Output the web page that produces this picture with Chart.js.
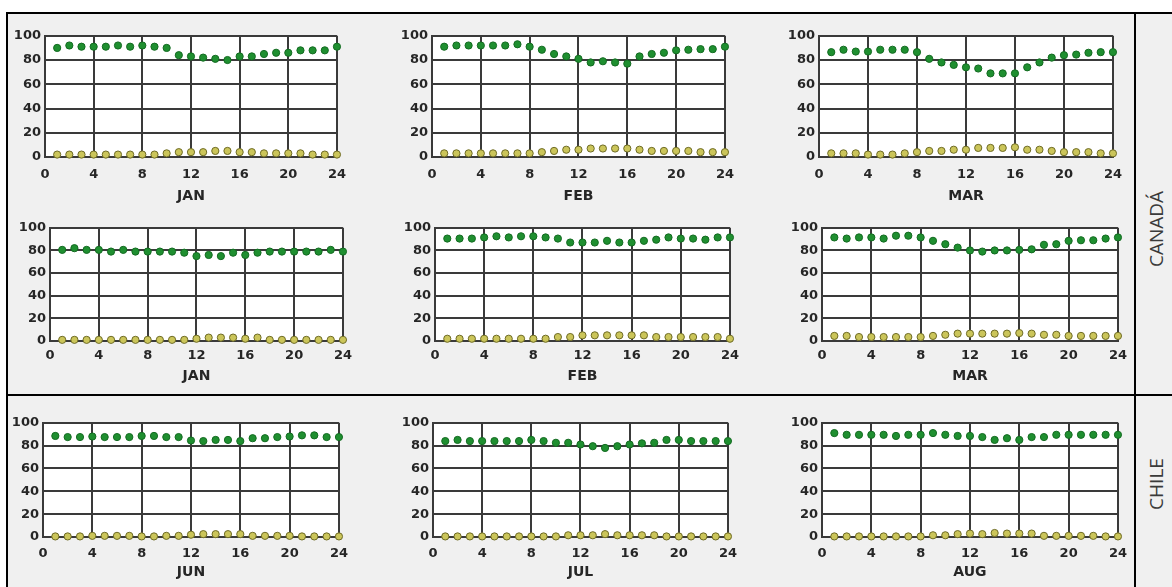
<!DOCTYPE html>
<html>
<head>
<meta charset="utf-8">
<script src="https://cdn.jsdelivr.net/npm/chart.js@4"></script>
<style>
body { margin:0; background:#fff; width:1172px; height:587px; overflow:hidden; position:relative; }
#marco { position:absolute; left:6px; top:12px; width:1166px; height:575px; background:#f0f0f0;
         border-top:2px solid #000; border-left:2px solid #000; box-sizing:border-box; }
.linea { position:absolute; background:#000; }
canvas { position:absolute; }
.pais { position:absolute; font-family:"Open Sans", sans-serif; font-size:19px; color:#3a3a3a;
        transform:translate(-50%, -50%) rotate(-90deg); white-space:nowrap; }
</style>
</head>
<body>
<div id="marco"></div>
<div class="linea" style="left:1134px; top:12px; width:2px; height:575px;"></div>
<div class="linea" style="left:6px; top:394px; width:1166px; height:2px;"></div>
<div class="pais" style="left:1156px; top:229px;">CANADÁ</div>
<div class="pais" style="left:1156px; top:484px;">CHILE</div>

<script>
// Horas del dia
var horas = [1, 2, 3, 4, 5, 6, 7, 8, 9, 10, 11, 12, 13, 14, 15, 16, 17, 18, 19, 20, 21, 22, 23, 24];

// Canada, fila 1
var canada1JanVerde = [90, 92, 91, 91, 91, 92, 91, 92, 91, 90, 84, 83, 82, 81, 80, 83, 83, 85, 86, 86, 88, 88, 88, 91];
var canada1JanAmarillo = [2, 2, 2, 2, 2, 2, 2, 2, 2, 3, 4, 4, 4, 5, 5, 4, 4, 3, 3, 3, 3, 2, 2, 2];
var canada1FebVerde = [91, 92, 92, 92, 92, 92, 93, 91, 88.5, 85, 83, 81, 78, 79, 78, 77, 83, 85, 86, 88, 88.5, 89, 89, 91];
var canada1FebAmarillo = [3, 3, 3, 3, 3, 3, 3, 3, 4, 5, 6, 6, 7, 7, 7, 7, 6, 5, 5, 5, 5, 4, 4, 4];
var canada1MarVerde = [86.5, 88.5, 87, 87, 88.5, 88.5, 88.5, 86.5, 81, 78, 76, 74, 73, 69, 69, 69, 74, 78, 82, 84, 84.5, 86, 86.5, 86.5];
var canada1MarAmarillo = [3, 3, 3, 2, 2, 2, 3, 4, 5, 5, 6, 6, 7.5, 7.5, 7.5, 8, 6, 6, 5, 4, 4, 4, 3, 3];

// Canada, fila 2
var canada2JanVerde = [80.5, 82, 80.5, 80.5, 79, 80.5, 79, 79, 79, 79, 78, 75, 76, 75, 78, 76, 78, 79, 79, 79, 79, 79, 80.5, 79];
var canada2JanAmarillo = [1, 1, 1, 1, 1, 1, 1, 1, 1, 1, 1, 2, 3, 3, 3, 2, 3, 1, 1, 1, 1, 1, 1, 1];
var canada2FebVerde = [90.5, 90.5, 90.5, 91.5, 92.5, 91.5, 92.5, 92.5, 91.5, 90.5, 87, 87, 87, 88.5, 87, 87, 88.5, 89.5, 91.5, 90.5, 90.5, 89.5, 91.5, 91.5];
var canada2FebAmarillo = [2, 2, 2, 2, 2, 2, 2, 2, 2, 3.5, 3.5, 5, 5, 5, 5, 5, 5, 3.5, 3.5, 3.5, 3.5, 3.5, 3.5, 2];
var canada2MarVerde = [91.5, 90.5, 91.5, 91.5, 90.5, 93, 93, 91.5, 88.5, 85.5, 82.5, 80, 79, 80, 80, 80.5, 81, 85, 85.5, 88.5, 89, 89, 90.5, 91.5];
var canada2MarAmarillo = [4.5, 4.5, 3.5, 3.5, 3.5, 3.5, 3.5, 3.5, 4.5, 5.5, 6.5, 6.5, 6.5, 6.5, 6.5, 7, 6.5, 5.5, 5.5, 4.5, 4.5, 4.5, 4.5, 4.5];

// Chile
var chileJunVerde = [88.5, 87.5, 87.5, 88, 87.5, 87.5, 87.5, 88.5, 88.5, 87.5, 87.5, 84.5, 84, 85, 85, 84, 86.5, 86.5, 87.5, 88, 89, 89, 87.5, 87.5];
var chileJunAmarillo = [0.5, 0.5, 0.5, 1, 1, 1, 1, 0.5, 0.5, 1, 1, 2, 2.5, 2.5, 2.5, 2.5, 1, 1, 1, 1, 0.5, 0.5, 0.5, 0.5];
var chileJulVerde = [84, 85, 84, 84, 84, 84, 84, 85, 84, 82.5, 82.5, 81, 79.5, 78, 79.5, 81, 82, 82.5, 85, 85, 84, 84, 84, 84];
var chileJulAmarillo = [0.5, 0.5, 0.5, 0.5, 0.5, 0.5, 0.5, 0.5, 0.5, 0.5, 1.5, 1.5, 1.5, 2.5, 1.5, 1.5, 1.5, 1.5, 0.5, 0.5, 0.5, 0.5, 0.5, 0.5];
var chileAugVerde = [91, 89.5, 89.5, 89.5, 89.5, 88.5, 89.5, 89.5, 91, 89.5, 88.5, 88.5, 87.5, 85, 86.5, 85, 87.5, 87.5, 89.5, 89.5, 89.5, 89.5, 89.5, 89.5];
var chileAugAmarillo = [0.5, 0.5, 0.5, 0.5, 0.5, 0.5, 0.5, 0.5, 1.5, 1.5, 2.5, 3, 2.5, 3.5, 3, 3, 3, 1, 1, 1, 1, 1, 0.5, 0.5];

var ejeX = { min: 0, max: 24, paso: 4 };
var ejeY = { min: 0, max: 100, paso: 20 };

var paneles = [
    { mes: 'JAN', verde: canada1JanVerde, amarillo: canada1JanAmarillo },
    { mes: 'FEB', verde: canada1FebVerde, amarillo: canada1FebAmarillo },
    { mes: 'MAR', verde: canada1MarVerde, amarillo: canada1MarAmarillo },
    { mes: 'JAN', verde: canada2JanVerde, amarillo: canada2JanAmarillo },
    { mes: 'FEB', verde: canada2FebVerde, amarillo: canada2FebAmarillo },
    { mes: 'MAR', verde: canada2MarVerde, amarillo: canada2MarAmarillo },
    { mes: 'JUN', verde: chileJunVerde, amarillo: chileJunAmarillo },
    { mes: 'JUL', verde: chileJulVerde, amarillo: chileJulAmarillo },
    { mes: 'AUG', verde: chileAugVerde, amarillo: chileAugAmarillo }
];

// Area de cada grafico: izquierda, arriba, derecha, abajo, alto del eje x, padding de ticks
var cajas = [
    [45, 32, 342, 157, 53, 10], [432, 32, 730, 157, 53, 10], [819, 32, 1118, 157, 53, 10],
    [50, 224, 345, 341, 49, 7], [435, 224, 732, 341, 49, 7], [822, 224, 1120, 341, 49, 7],
    [43, 419, 343, 537, 49, 9], [433, 419, 732, 537, 49, 9], [822, 419, 1122, 537, 49, 9]
];

// Fondo blanco del area de trazado
var fondoBlanco = {
    id: 'fondoBlanco',
    beforeDraw: function (chart) {
        var a = chart.chartArea;
        chart.ctx.save();
        chart.ctx.fillStyle = '#ffffff';
        chart.ctx.fillRect(a.left, a.top, a.right - a.left, a.bottom - a.top);
        chart.ctx.restore();
    }
};

var fuenteTicks = { family: 'DejaVu Sans', size: 13, weight: 'bold' };
var fuenteMes = { family: 'DejaVu Sans', size: 14, weight: 'bold' };
var colorTexto = '#262626';
var colorRejilla = '#3a3a3a';

function puntos(valores) {
    return horas.map(function (h, i) { return { x: h, y: valores[i] }; });
}

function crearPanel(p, caja) {
    var L = caja[0], T = caja[1], R = caja[2], B = caja[3], altoX = caja[4], padX = caja[5];
    var anchoY = 44, arriba = 8, derecha = 14;
    var w = R - L + anchoY + derecha;
    var h = B - T + arriba + altoX;

    var canvas = document.createElement('canvas');
    canvas.width = w;
    canvas.height = h;
    canvas.style.left = (L - anchoY) + 'px';
    canvas.style.top = (T - arriba) + 'px';
    canvas.style.width = w + 'px';
    canvas.style.height = h + 'px';
    document.body.appendChild(canvas);

    new Chart(canvas.getContext('2d'), {
        type: 'scatter',
        data: {
            datasets: [
                {
                    data: puntos(p.amarillo),
                    backgroundColor: '#cbc55a',
                    borderColor: '#6e6b25',
                    borderWidth: 1,
                    pointRadius: 3.6,
                    clip: false
                },
                {
                    data: puntos(p.verde),
                    backgroundColor: '#1f8f30',
                    borderColor: '#136b21',
                    borderWidth: 1,
                    pointRadius: 3.6,
                    clip: false
                }
            ]
        },
        options: {
            responsive: false,
            animation: false,
            events: [],
            layout: { padding: { left: 0, top: arriba, right: derecha, bottom: 0 } },
            plugins: { legend: { display: false }, tooltip: { enabled: false } },
            scales: {
                x: {
                    type: 'linear',
                    min: ejeX.min,
                    max: ejeX.max,
                    ticks: { stepSize: ejeX.paso, font: fuenteTicks, color: colorTexto, padding: padX },
                    grid: { color: colorRejilla, lineWidth: 2, drawTicks: false },
                    border: { color: colorRejilla, width: 2 },
                    title: { display: true, text: p.mes, font: fuenteMes, color: colorTexto, padding: { top: 0, bottom: 5 } },
                    afterFit: function (s) { s.height = altoX; }
                },
                y: {
                    min: ejeY.min,
                    max: ejeY.max,
                    ticks: { stepSize: ejeY.paso, font: fuenteTicks, color: colorTexto, padding: 4 },
                    grid: { color: colorRejilla, lineWidth: 2, drawTicks: false },
                    border: { color: colorRejilla, width: 2 },
                    afterFit: function (s) { s.width = anchoY; }
                }
            }
        },
        plugins: [fondoBlanco]
    });
}

paneles.forEach(function (p, i) { crearPanel(p, cajas[i]); });
</script>
</body>
</html>
